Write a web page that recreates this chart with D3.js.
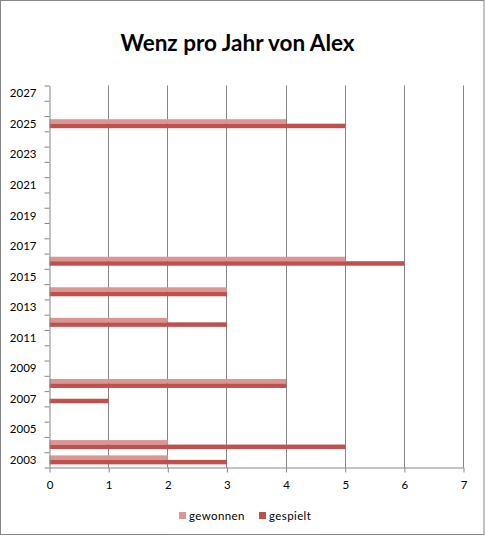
<!DOCTYPE html>
<html>
<head>
<meta charset="utf-8">
<script src="https://cdn.jsdelivr.net/npm/d3@7"></script>
<style>
  html, body { margin: 0; padding: 0; background: #fff; }
  svg { display: block; }
  text { font-family: Lato, "Open Sans", "Liberation Sans", sans-serif; }
</style>
</head>
<body>
<svg id="chart" width="485" height="536"></svg>
<script>
const years = d3.range(2003, 2028);
const labelYears = [2003, 2005, 2007, 2009, 2011, 2013, 2015, 2017, 2019, 2021, 2023, 2025, 2027];
const seriesNames = ["gewonnen", "gespielt"];
const dataYears = [2003, 2004, 2007, 2008, 2012, 2014, 2016, 2025];
const gewonnen = [2, 2, 0, 4, 2, 3, 5, 4];
const gespielt = [3, 5, 1, 4, 3, 3, 6, 5];
const xTicks = [0, 1, 2, 3, 4, 5, 6, 7];
const colors = ["#D99694", "#C0504D"];
const title = "Wenz pro Jahr von Alex";

(function () {
const svg = d3.select("#chart");
const pLeft = 49, pRight = 463, pTop = 85.5, pBottom = 467.5;
const gridColor = "#868686";

svg.append("rect").attr("x", 0.5).attr("y", 0.5).attr("width", 483.5).attr("height", 534)
  .attr("fill", "#fff").attr("stroke", gridColor).attr("stroke-width", 1);

svg.append("text").attr("x", 237.5).attr("y", 51).attr("text-anchor", "middle")
  .attr("font-size", 22.5).attr("font-weight", "bold").attr("fill", "#000").text(title);

const x = d3.scaleLinear().domain([0, 7]).range([pLeft, pRight]);
const yBand = d3.scaleBand().domain(years.slice().reverse()).range([pTop, pBottom]).padding(0);
const yLin = d3.scaleLinear().domain([2002.5, 2027.5]).range([pBottom, pTop]);
const sub = d3.scaleBand().domain(seriesNames).range([0, yBand.bandwidth()]).paddingInner(0).paddingOuter(0.7);

// vertical gridlines
svg.append("g").selectAll("line").data(xTicks.filter(d => d > 0)).join("line")
  .attr("x1", d => Math.round(x(d)) + 0.5).attr("x2", d => Math.round(x(d)) + 0.5)
  .attr("y1", pTop).attr("y2", pBottom)
  .attr("stroke", gridColor).attr("stroke-width", 1);

// bars
const rows = dataYears.map((yr, i) => ({ year: yr, values: [gewonnen[i], gespielt[i]] }));
const g = svg.append("g");
rows.forEach(r => {
  r.values.forEach((v, si) => {
    if (v > 0) {
      g.append("rect")
        .attr("x", x(0) + 0.5)
        .attr("y", yBand(r.year) + sub(seriesNames[si]))
        .attr("width", x(v) - x(0))
        .attr("height", sub.bandwidth())
        .attr("fill", colors[si]);
    }
  });
});

// y axis ticks (band boundaries)
const yTickAxis = d3.axisLeft(yLin).tickValues(d3.range(2002.5, 2028, 1)).tickFormat("").tickSize(5).tickSizeOuter(0);
const gy = svg.append("g").attr("transform", `translate(${pLeft + 0.5},0)`).call(yTickAxis);
gy.select(".domain").attr("stroke", gridColor);
gy.selectAll(".tick line").attr("stroke", gridColor);

// y labels
const yLabelAxis = d3.axisLeft(yLin).tickValues(labelYears).tickFormat(d3.format("d")).tickSize(0).tickPadding(13);
const gyl = svg.append("g").attr("transform", `translate(${pLeft + 0.5},0)`).call(yLabelAxis);
gyl.select(".domain").remove();
gyl.selectAll("text").attr("font-size", 11.5).attr("fill", "#000").attr("font-family", "Lato, 'Open Sans', sans-serif");

// x axis
const xAxis = d3.axisBottom(x).tickValues(xTicks).tickFormat(d3.format("d")).tickSize(5).tickSizeOuter(0).tickPadding(8);
const gx = svg.append("g").attr("transform", `translate(0.5,${pBottom})`).call(xAxis);
gx.select(".domain").attr("stroke", gridColor);
gx.selectAll(".tick line").attr("stroke", gridColor);
gx.selectAll("text").attr("font-size", 11.5).attr("fill", "#000").attr("font-family", "Lato, 'Open Sans', sans-serif");

// legend
const legendX = [179, 259];
const lg = svg.append("g");
seriesNames.forEach((n, i) => {
  lg.append("rect").attr("x", legendX[i]).attr("y", 512).attr("width", 7).attr("height", 7).attr("fill", colors[i]);
  lg.append("text").attr("x", legendX[i] + 10).attr("y", 520).attr("font-size", 11.5)
    .attr("letter-spacing", 0.4).attr("fill", "#000").text(n);
});
})();
</script>
</body>
</html>
